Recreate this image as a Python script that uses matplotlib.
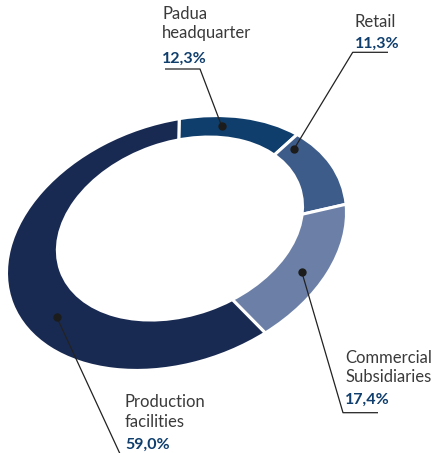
import numpy as np
import matplotlib
matplotlib.use("Agg")
import matplotlib.pyplot as plt
from matplotlib.patches import Circle
from matplotlib.transforms import Affine2D

# share of the workforce by site
names = [["Padua", "headquarter"], ["Retail"], ["Commercial", "Subsidiaries"], ["Production", "facilities"]]
shares = [12.3, 11.3, 17.4, 59.0]
colors = ["#0f3e6d", "#3e5c8a", "#6c80a7", "#192a52"]

# where along each slice the leader starts (0 = leading edge, 1 = trailing edge)
anchor_frac = [0.357, 0.106, 0.53, 0.424]
# label block: left x, baselines of the name lines, baseline of the value
label_pos = [
    (162, [19, 37.7], 63),
    (355, [26.7], 47.3),
    (345, [363.3, 381.7], 404),
    (125, [407.3, 426.7], 448.3),
]
# leader elbows: (elbow x, elbow y, end x)
elbows = [(200, 69, 165), (352.7, 52.3, 388), (343, 412.7, 378), (121, 456, 121)]

plt.rcParams["font.family"] = ["Lato", "DejaVu Sans"]

fig = plt.figure(figsize=(4.33, 4.53), dpi=100)
ax = fig.add_axes([0, 0, 1, 1])

# unit-circle pie squashed and tilted into an ellipse (pixel coords, y down)
ring = Affine2D().scale(175.2, 120.2).rotate_deg(19.4).scale(1, -1).translate(176.5, 243)
hole_c = np.array([0.046, 0.104])
hole_r = 0.73

wedges, _ = ax.pie(shares, startangle=75.5, counterclock=False, colors=colors,
                   wedgeprops=dict(edgecolor="white", linewidth=2.2))
for w in wedges:
    w.set_transform(ring + ax.transData)
ax.add_patch(Circle(hole_c, hole_r, fc="white", ec="none", zorder=3,
                    transform=ring + ax.transData))

ax.set_xlim(0, 433)
ax.set_ylim(453, 0)
ax.set_aspect("auto")
ax.axis("off")

for i, w in enumerate(wedges):
    th = np.radians(w.theta2 - anchor_frac[i] * (w.theta2 - w.theta1))
    d = np.array([np.cos(th), np.sin(th)])
    b = d @ hole_c
    t_in = b + np.sqrt(b * b - hole_c @ hole_c + hole_r ** 2)
    px, py = ring.transform((1 + t_in) / 2 * d)
    ex, ey, endx = elbows[i]
    ax.plot([px, ex, endx], [py, ey, ey], color="#222222", lw=0.9, zorder=4,
            solid_capstyle="butt", clip_on=False)
    ax.plot(px, py, "o", color="#1c1c1c", ms=5, zorder=5)

    x, lines_y, val_y = label_pos[i]
    for txt, y in zip(names[i], lines_y):
        ax.text(x, y, txt, fontsize=12, color="#3a3a3a", va="baseline", ha="left")
    ax.text(x, val_y, f"{shares[i]:.1f}%".replace(".", ","), fontsize=11.5,
            fontweight="bold", color="#0f3e6d", va="baseline", ha="left")

fig.savefig("out.png", dpi=100)
